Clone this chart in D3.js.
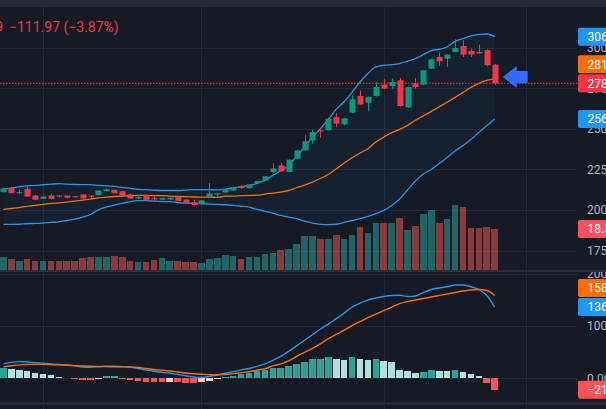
<!DOCTYPE html>
<html><head><meta charset="utf-8">
<script src="https://cdn.jsdelivr.net/npm/d3@7"></script>
<style>html,body{margin:0;padding:0;background:#161a25;overflow:hidden}svg{display:block}</style>
</head><body><svg id="c" width="606" height="409"></svg>
<script>
// ---------- DATA ----------
const opens  = [2110,2137,2104,2131,2089,2069,2089,2089,2089,2085,2096,2089,2091,2116,2124,2116,2096,2071,2094,2073,2063,2065,2079,2063,2048,2038,2079,2096,2108,2120,2149,2135,2166,2182,2234,2275,2234,2316,2367,2429,2491,2491,2573,2528,2600,2703,2661,2703,2773,2764,2800,2633,2779,2773,2871,2943,2933,2974,3011,2980,2974,2985,2896];
const highs  = [2137,2145,2127,2151,2092,2086,2098,2090,2090,2087,2098,2090,2123,2132,2127,2119,2099,2092,2096,2085,2076,2078,2081,2065,2063,2061,2166,2106,2129,2144,2152,2160,2181,2210,2289,2291,2313,2370,2464,2495,2501,2566,2598,2568,2707,2738,2700,2789,2806,2810,2814,2760,2814,2864,2932,2970,2960,3052,3046,2995,3020,2990,2900];
const lows   = [2108,2102,2096,2080,2060,2067,2066,2077,2070,2076,2069,2071,2089,2114,2102,2087,2069,2067,2061,2053,2060,2063,2053,2042,2028,2036,2077,2083,2106,2118,2132,2133,2163,2180,2230,2235,2232,2313,2365,2408,2445,2489,2511,2522,2595,2648,2608,2700,2745,2748,2638,2629,2748,2770,2869,2888,2882,2972,2943,2943,2962,2885,2770];
const closes = [2131,2104,2110,2083,2063,2083,2069,2083,2075,2079,2071,2085,2120,2127,2104,2089,2071,2079,2063,2065,2073,2075,2055,2044,2030,2059,2102,2104,2125,2141,2135,2157,2178,2207,2256,2238,2310,2367,2423,2480,2485,2563,2532,2565,2682,2651,2696,2758,2748,2789,2641,2758,2758,2861,2929,2917,2958,2999,2958,2958,2966,2893.06,2781.09];
const volumes = [6.1,5.1,4.5,5.1,4.5,4.5,4.5,4.5,4.5,4.5,5.7,6.0,6.1,6.1,6.6,6.0,4.5,4.1,4.1,4.7,5.7,4.5,4.5,4.1,4.1,3.5,5.1,5.7,7.0,6.6,5.1,6.1,6.1,7.5,8.0,9.1,9.5,11.8,15.4,15.4,14.0,14.0,15.8,14.0,15.8,19.3,16.8,21.2,21.2,21.2,23.1,17.8,19.7,25.1,26.6,21.2,22.7,28.9,28.1,18.9,18.9,19.3,18.39];
const bbUpper = [2127,2135,2143,2149,2151,2156,2159,2162,2159,2157,2156,2156,2151,2149,2145,2139,2133,2127,2125,2122,2120,2120,2120,2122,2125,2125,2125,2124,2128,2136,2142,2151,2164,2182,2213,2240,2275,2330,2388,2449,2501,2557,2620,2667,2727,2789,2841,2882,2892,2896,2903,2917,2933,2958,2983,2991,3005,3040,3057,3073,3083,3085,3068.42];
const bbBasis = [2003,2009,2015,2022,2028,2034,2040,2044,2048,2054,2061,2067,2075,2079,2083,2085,2088,2090,2090,2088,2088,2085,2083,2082,2080,2079,2079,2078,2085,2085,2088,2090,2091,2098,2104,2110,2120,2137,2153,2172,2194,2219,2252,2289,2322,2351,2378,2419,2449,2477,2497,2522,2553,2580,2608,2636,2664,2694,2725,2756,2781,2799,2810.57];
const bbLower = [1911,1911,1912,1915,1917,1919,1923,1927,1935,1943,1956,1972,2001,2017,2030,2040,2052,2057,2057,2054,2052,2051,2046,2042,2040,2038,2036,2034,2032,2028,2023,2017,2003,1991,1980,1966,1956,1946,1931,1919,1911,1909,1912,1923,1935,1946,1960,1977,1997,2028,2068,2123,2179,2222,2250,2287,2324,2364,2398,2435,2478,2519,2561.30];
const macdLine = [27.5,30.4,31.9,31.3,30.0,28.8,27.5,26.5,25.6,23.7,21.7,21.2,22.1,23.1,23.3,22.3,20.8,18.8,16.0,13.5,11.5,9.6,7.3,5.0,2.5,1.5,3.5,6.3,9.6,12.7,16.0,18.8,22.7,27.5,34.2,41.9,51.5,62.1,72.7,83.3,93.8,103.5,114.0,124.6,136.2,143.8,149.6,153.5,156.3,158.3,158.8,156.3,157.3,164.0,169.8,172.7,175.0,178.5,178.5,175.0,169.8,158.3,136.52];
const signalLine = [22.1,24.0,25.6,26.3,26.9,26.7,26.2,25.6,25.0,24.2,23.5,22.9,22.5,22.3,22.1,21.9,21.7,20.6,18.7,16.9,15.6,14.0,12.1,10.2,8.7,7.7,6.9,6.3,7.3,9.0,10.8,12.5,15.4,18.3,23.7,27.5,33.3,41.9,49.6,57.3,66.0,75.6,84.2,91.9,100.6,108.3,116.0,122.7,129.4,136.2,142.9,146.7,149.6,152.5,155.4,158.3,161.2,164.0,166.9,168.8,169.8,167.9,158.41];
const macdHist = [20.4,17.9,15.4,14.0,10.2,7.7,5.8,3.1,1.2,-1.9,-3.2,-3.4,-1.3,3.8,3.9,-1.3,-3.3,-5.1,-6.4,-7.6,-7.8,-7.5,-7.8,-8.1,-9.6,-7.7,-5.0,-2.2,3.0,5.2,8.2,10.8,13.1,15.0,18.9,19.2,23.4,27.2,31.7,37.5,37.8,40.0,37.5,35.6,40.0,37.5,35.6,36.0,33.7,31.7,15.0,14.2,9.6,11.5,16.0,14.0,13.8,16.0,11.5,7.7,3.8,-9.6,-21.89];
const priceTicks = [3000,2750,2500,2250,2000,1750];
const macdTicks = [200,100,0];
const timeGridIdx = [5,25,48,66];
const arrowPrice = 2820;

// ---------- SETUP ----------
const svg = d3.select('#c');
const W = 606, H = 409, plotR = 577;
const BG = '#161a25', GRID = '#242834';
const UP = '#089981', DN = '#f23645';
const n = closes.length;
const x = d3.scaleLinear().domain([0, n - 1]).range([3.35, 494.7]);
const yP = d3.scaleLinear().domain([1750, 3000]).range([250.5, 47.8]);
const yV = d3.scaleLinear().domain([0, 40]).range([271, 179.8]);
const yM = d3.scaleLinear().domain([0, 100]).range([378.3, 326.0]);
const minus = s => s.replace(/-/g, '\u2212');
const f2 = d3.format('.2f');
const font = 'Roboto, "Noto Sans", sans-serif';

svg.append('rect').attr('width', W).attr('height', H).attr('fill', BG);
const defs = svg.append('defs');
defs.append('clipPath').attr('id', 'pp').append('rect').attr('x', 0).attr('y', 7).attr('width', plotR).attr('height', 263);
defs.append('clipPath').attr('id', 'mp').append('rect').attr('x', 0).attr('y', 272).attr('width', plotR).attr('height', 130);
defs.append('clipPath').attr('id', 'pa').append('rect').attr('x', plotR).attr('y', 7).attr('width', 40).attr('height', 263);
defs.append('clipPath').attr('id', 'ma').append('rect').attr('x', plotR).attr('y', 272).attr('width', 40).attr('height', 130);

// top strip
svg.append('rect').attr('x', 0).attr('y', 0).attr('width', W).attr('height', 7).attr('fill', '#262a35');

// ---------- GRID ----------
const grid = svg.append('g').attr('shape-rendering', 'crispEdges');
grid.selectAll('.hp').data(priceTicks).join('line')
  .attr('x1', 0).attr('x2', plotR).attr('y1', d => Math.round(yP(d)) + 0.5).attr('y2', d => Math.round(yP(d)) + 0.5)
  .attr('stroke', GRID);
grid.selectAll('.hm').data(macdTicks).join('line')
  .attr('x1', 0).attr('x2', plotR).attr('y1', d => Math.round(yM(d)) + 0.5).attr('y2', d => Math.round(yM(d)) + 0.5)
  .attr('stroke', GRID);
grid.selectAll('.v').data(timeGridIdx).join('line')
  .attr('x1', d => Math.round(x(d)) + 0.5).attr('x2', d => Math.round(x(d)) + 0.5)
  .attr('y1', 7).attr('y2', H).attr('stroke', GRID);

// ---------- PRICE PANE ----------
const pp = svg.append('g').attr('clip-path', 'url(#pp)');
const idx = d3.range(n);
pp.append('path').datum(idx)
  .attr('d', d3.area().x(i => x(i)).y0(i => yP(bbLower[i])).y1(i => yP(bbUpper[i])))
  .attr('fill', 'rgba(33,150,243,0.06)');

// volume
pp.append('g').attr('shape-rendering', 'crispEdges').selectAll('rect').data(idx).join('rect')
  .attr('x', i => x(i) - 3.3).attr('width', 6.6)
  .attr('y', i => yV(volumes[i])).attr('height', i => yV(0) - yV(volumes[i]))
  .attr('fill', i => closes[i] >= opens[i] ? 'rgba(38,166,154,0.55)' : 'rgba(239,83,80,0.55)');

const line = arr => d3.line().x(i => x(i)).y(i => yP(arr[i])).curve(d3.curveMonotoneX)(idx);
pp.append('path').attr('d', line(bbUpper)).attr('fill', 'none').attr('stroke', '#2196f3').attr('stroke-width', 1.3);
pp.append('path').attr('d', line(bbLower)).attr('fill', 'none').attr('stroke', '#2196f3').attr('stroke-width', 1.3);
pp.append('path').attr('d', line(bbBasis)).attr('fill', 'none').attr('stroke', '#ff6d00').attr('stroke-width', 1.3);

// candles
const cg = pp.append('g');
cg.selectAll('.w').data(idx).join('line')
  .attr('x1', i => Math.round(x(i)) + 0.5).attr('x2', i => Math.round(x(i)) + 0.5)
  .attr('y1', i => yP(highs[i])).attr('y2', i => yP(lows[i]))
  .attr('stroke', i => closes[i] >= opens[i] ? UP : DN).attr('stroke-width', 1);
cg.selectAll('.b').data(idx).join('rect')
  .attr('x', i => Math.round(x(i)) - 2.5).attr('width', 6)
  .attr('y', i => yP(Math.max(opens[i], closes[i])))
  .attr('height', i => Math.max(1, yP(Math.min(opens[i], closes[i])) - yP(Math.max(opens[i], closes[i]))))
  .attr('fill', i => closes[i] >= opens[i] ? UP : DN);

// last price dotted line
const last = closes[n - 1];
svg.append('line').attr('x1', 0).attr('x2', plotR).attr('y1', yP(last)).attr('y2', yP(last))
  .attr('stroke', DN).attr('stroke-width', 1).attr('stroke-dasharray', '1.5,1.5');

// arrow annotation
const ax0 = x(n - 1) + 8, ay0 = yP(arrowPrice);
svg.append('path')
  .attr('d', `M${ax0},${ay0} L${ax0 + 14},${ay0 - 11} L${ax0 + 14},${ay0 - 6} L${ax0 + 25},${ay0 - 6} L${ax0 + 25},${ay0 + 6} L${ax0 + 14},${ay0 + 6} L${ax0 + 14},${ay0 + 11} Z`)
  .attr('fill', '#2f6bff');

// ---------- MACD PANE ----------
const mp = svg.append('g').attr('clip-path', 'url(#mp)');
const histColor = i => {
  const v = macdHist[i], p = i > 0 ? macdHist[i - 1] : -Infinity;
  if (v >= 0) return (i === 0 || v >= p) ? '#26a69a' : '#b2dfdb';
  return v > p ? '#ffcdd2' : '#ff5252';
};
mp.append('g').attr('shape-rendering', 'crispEdges').selectAll('rect').data(idx).join('rect')
  .attr('x', i => x(i) - 3.3).attr('width', 6.6)
  .attr('y', i => Math.min(yM(0), yM(macdHist[i])))
  .attr('height', i => Math.abs(yM(macdHist[i]) - yM(0)))
  .attr('fill', histColor);
const mline = arr => d3.line().x(i => x(i)).y(i => yM(arr[i])).curve(d3.curveMonotoneX)(idx);
mp.append('path').attr('d', mline(macdLine)).attr('fill', 'none').attr('stroke', '#2196f3').attr('stroke-width', 1.4);
mp.append('path').attr('d', mline(signalLine)).attr('fill', 'none').attr('stroke', '#ff6d00').attr('stroke-width', 1.4);

// separators
svg.append('rect').attr('x', 0).attr('y', 270).attr('width', W).attr('height', 2).attr('fill', '#2a2e39');
svg.append('rect').attr('x', 0).attr('y', 402.5).attr('width', W).attr('height', 2).attr('fill', '#2a2e39');

// ---------- VALUE LABEL POSITIONS ----------
function placeLabels(list) {
  list.sort((a, b) => b.y - a.y);
  for (let k = 1; k < list.length; k++) {
    if (list[k].y > list[k - 1].y - 19) list[k].y = list[k - 1].y - 19;
  }
  return list;
}
const priceLabels = placeLabels([
  { y: yP(bbUpper[n - 1]), c: '#2196f3', t: f2(bbUpper[n - 1]) },
  { y: yP(bbBasis[n - 1]), c: '#ff6d00', t: f2(bbBasis[n - 1]) },
  { y: yP(last), c: '#f23645', t: f2(last) },
  { y: yP(bbLower[n - 1]), c: '#2196f3', t: f2(bbLower[n - 1]) }
]);
const volLabels = [{ y: yV(volumes[n - 1]), c: '#f7525f', t: f2(volumes[n - 1]) + 'M' }];
const macdLabels = placeLabels([
  { y: yM(signalLine[n - 1]), c: '#ff6d00', t: f2(signalLine[n - 1]) },
  { y: yM(macdLine[n - 1]), c: '#2196f3', t: f2(macdLine[n - 1]) },
  { y: yM(macdHist[n - 1]), c: '#ff5252', t: minus(f2(macdHist[n - 1])) }
]);
const allLabels = priceLabels.concat(volLabels, macdLabels);
// a tick label that sits entirely under a value label box is not visible
const hidden = ty => allLabels.some(l => ty - 5 >= l.y - 9 && ty + 5 <= l.y + 9);

// ---------- AXES ----------
function drawAxis(clipId, scale, ticks) {
  const outer = svg.append('g').attr('clip-path', `url(#${clipId})`);
  const a = outer.append('g').attr('transform', 'translate(587,0)')
    .call(d3.axisRight(scale).tickValues(ticks.filter(t => !hidden(scale(t)))).tickSize(0).tickPadding(0).tickFormat(f2));
  a.select('.domain').remove();
  a.selectAll('text').attr('fill', '#b2b5be').attr('font-size', 12).attr('font-family', font).attr('x', 0);
}
drawAxis('pa', yP, priceTicks);
drawAxis('ma', yM, macdTicks);

// ---------- VALUE LABELS ----------
allLabels.forEach(l => {
  svg.append('rect').attr('x', 578).attr('y', l.y - 9).attr('width', 60).attr('height', 18).attr('rx', 2).attr('fill', l.c);
  svg.append('text').attr('x', 587.5).attr('y', l.y).attr('dy', '0.36em').attr('fill', '#ffffff')
    .attr('font-size', 12).attr('font-family', font).text(l.t);
});

// ---------- HEADER ----------
const prev = closes[n - 2], chg = last - prev, pct = chg / prev * 100;
svg.append('text').attr('x', 3).attr('y', 31.7).attr('text-anchor', 'end').attr('fill', DN)
  .attr('font-size', 14).attr('font-family', font).text('C' + f2(last));
svg.append('text').attr('x', 9).attr('y', 31.7).attr('fill', DN)
  .attr('font-size', 14).attr('font-family', font)
  .text(minus(f2(chg)) + ' (' + minus(f2(pct)) + '%)');
</script>
</body></html>
